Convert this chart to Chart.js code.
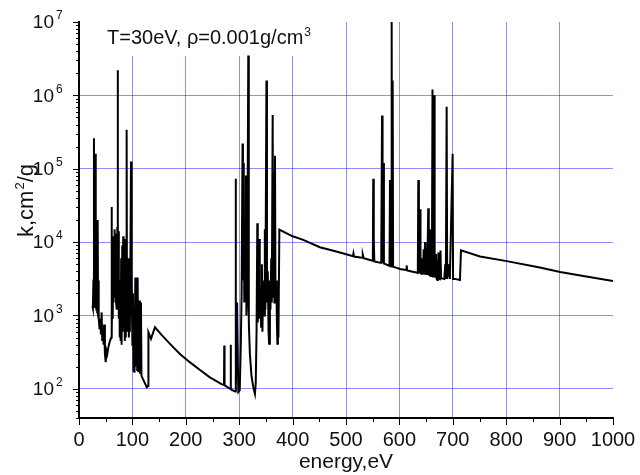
<!DOCTYPE html>
<html>
<head>
<meta charset="utf-8">
<script src="https://cdn.jsdelivr.net/npm/chart.js@4.4.1/dist/chart.umd.min.js"></script>
<style>
  html, body { margin: 0; padding: 0; background: #fff; }
</style>
</head>
<body>
<canvas id="chart" width="640" height="475"></canvas>
<script>
// first absorption group, 25 - 142 eV
const energyA = [25, 26, 27, 28, 28.6, 29.5, 30.3, 30.9, 31.8, 32.5, 33.4, 34.2, 35, 35.7, 36.5, 37.3,
  38.5, 40, 41, 42.4, 43.5, 45, 46, 47, 48.5, 50, 51.5, 53, 55, 58, 60.5, 61, 61.6, 62.5, 63.2, 64,
  64.8, 65.6, 66.3, 67, 67.8, 68.6, 69.4, 70.3, 71, 71.8, 72.4, 73, 73.8, 74.6, 75.5, 76.3, 77.2, 78,
  79, 79.8, 81, 81.8, 82.8, 83.6, 84.8, 85.8, 86.8, 87.6, 88.5, 89.2, 89.9, 90.8, 91.6, 92.5, 93.4,
  94.3, 95.2, 96.2, 97.4, 98.2, 99, 100, 101, 102, 103, 104, 105.5, 106.5, 108, 109, 109.8, 111, 113,
  114, 116, 117, 122, 127, 129.8, 130, 134.8, 142.3];
const kappaA = [1350, 1250, 3000, 260000, 1300, 8000, 160000, 1400, 12000, 1200, 9000, 1100, 20000, 1000, 3000, 900,
  650, 900, 550, 1100, 450, 600, 400, 750, 300, 230, 330, 300, 370, 450, 500, 30000, 600, 4000, 900, 12000,
  1500, 8000, 2000, 15000, 1800, 13000, 1500, 9000, 1200, 16000, 2200000, 1500, 14000, 900, 3000, 500, 2500, 450,
  6000, 400, 9000, 600, 12000, 700, 11000, 450, 5000, 500, 9000, 340000, 700, 4000, 600, 6000, 500,
  3000, 600, 5000, 125000, 1000, 3000, 400, 2000, 170, 1200, 165, 3300, 200, 1800, 180, 3300, 170, 1600,
  160, 1500, 150, 125, 105, 110, 590, 480, 690];

// smooth valley and second group, 155 - 375 eV
const energyB = [155, 170.4, 189, 208, 226.6, 245, 267, 271.5, 272, 272.6, 280, 283.5, 284, 284.6, 288,
  292.5, 293.3, 294, 296, 298.3, 301, 303, 304.5, 306.3, 307, 308.5, 309.5, 311, 312.7, 313.5, 315, 317,
  318, 320, 323, 326.4, 329.5, 331, 332.5, 333.9, 334.8, 336, 337.6, 338.5, 340, 341, 342.5, 343.5, 345,
  346.5, 348, 349, 351, 352, 353.5, 355, 356, 357.5, 358.5, 360, 361, 362.7, 363.5, 365, 366, 367, 368,
  369.5, 370.5, 371.5, 372.5, 373.5];
const kappaB = [540, 410, 298, 229, 180, 143, 116, 113, 390, 112, 103, 100, 400, 99, 95,
  92, 73000, 92, 1500, 90, 95, 400, 2000, 220000, 3000, 120000, 1500, 3000, 81000, 1000, 2000, 3500000,
  800, 300, 150, 105, 85, 120, 600, 18000, 800, 3000, 11000, 900, 2500, 700, 5000, 600, 3000,
  1000, 15000, 1200, 1600000, 1500, 4000, 600, 410, 3000, 1200, 6000, 1500, 540000, 1800, 90000, 1500, 150000, 1500,
  3000, 900, 410, 2400, 500];

// edge and third group, 375 - 1000 eV
const energyC = [375.2, 400, 420, 451, 480, 507, 513, 514, 515, 530, 531.5, 533, 548, 550.3, 551, 551.7,
  552.4, 553, 560, 566, 567.5, 568.5, 570, 571, 574, 579.3, 581.5, 582.4, 583, 584.5, 585.5, 586.3, 587.4,
  588.2, 595, 601, 612.5, 613.6, 614.5, 625, 632, 634.5, 635.4, 636.5, 638.6, 639.5, 641.7, 643, 644,
  645.5, 646.5, 648, 649, 650.5, 651.5, 653, 654, 655, 656.5, 657.5, 658.5, 659.5, 661, 662, 663, 664,
  665, 666, 667, 668.5, 669.5, 671, 672, 673, 674, 675.5, 677, 678, 680, 684, 686, 687, 688.5, 689.5,
  693.5, 694.5, 699.7, 700.5, 704, 713.4, 715.3, 751, 801, 863, 901, 950, 1000];
const kappaC = [14800, 12000, 10700, 8500, 7500, 6600, 6400, 7000, 6350, 6100, 6700, 6050, 5600, 5550, 73000, 5500,
  11000, 5450, 5300, 5200, 530000, 5200, 120000, 5100, 5000, 4800, 4750, 70000, 4700, 4700, 10000000, 4650, 1600000,
  4600, 4450, 4300, 4150, 4800, 4100, 3950, 3850, 3800, 70000, 3800, 28000, 3750, 3700, 6000, 3650,
  8000, 3600, 10000, 3600, 7000, 3550, 9000, 29000, 3500, 12000, 3500, 15000, 3450, 8000, 1200000, 3400, 6000,
  1000000, 3300, 4500, 6900, 3200, 3050, 3100, 7200, 3200, 3150, 7700, 3200, 3200, 3150, 5000, 3150, 700000, 3150,
  5000, 3150, 160000, 3150, 3150, 3050, 7700, 6350, 5500, 4500, 3900, 3400, 2950];

const xTickValues = [0, 100, 200, 300, 400, 500, 600, 700, 800, 900, 1000];
const yDecades = [2, 3, 4, 5, 6, 7];

const energy = energyA.concat(energyB, energyC);
const kappa = kappaA.concat(kappaB, kappaC);

const FONT = '"Liberation Sans", Arial, Helvetica, sans-serif';
const gridBlue = 'rgba(30, 30, 255, 0.5)';

// tick marks, y labels with exponents, rotated y title and the in-plot title
const decor = {
  id: 'decor',
  beforeDatasetsDraw(chart) {
    const { ctx, chartArea } = chart;
    ctx.save();
    ctx.fillStyle = '#fff';
    ctx.fillRect(chartArea.left + 2, chartArea.top - 1, 262, 35);
    ctx.restore();
  },
  afterDraw(chart) {
    const { ctx, chartArea, scales: { x, y } } = chart;
    ctx.save();
    ctx.strokeStyle = '#000';
    ctx.lineWidth = 1;
    ctx.beginPath();
    for (let e = 1; e <= 7; e++) {
      for (let m = 1; m <= 9; m++) {
        const v = m * Math.pow(10, e);
        if (v < y.min || v > y.max) continue;
        const py = Math.round(y.getPixelForValue(v)) + 0.5;
        const len = m === 1 ? 6 : 3;
        ctx.moveTo(chartArea.left - len, py);
        ctx.lineTo(chartArea.left, py);
      }
    }
    for (let v = 0; v <= 1000; v += 50) {
      const px = Math.round(x.getPixelForValue(v)) + 0.5;
      const len = v % 100 ? 4 : 7;
      ctx.moveTo(px, chartArea.bottom);
      ctx.lineTo(px, chartArea.bottom + len);
    }
    ctx.stroke();

    ctx.fillStyle = '#111';
    yDecades.forEach(n => {
      const py = y.getPixelForValue(Math.pow(10, n));
      ctx.font = '19px ' + FONT;
      ctx.textAlign = 'right';
      ctx.textBaseline = 'middle';
      ctx.fillText('10', 54, py + 1);
      ctx.font = '12px ' + FONT;
      ctx.textAlign = 'left';
      ctx.fillText(String(n), 56, py - 6);
    });

    // y axis title
    ctx.save();
    ctx.translate(33, 237);
    ctx.rotate(-Math.PI / 2);
    ctx.textAlign = 'left';
    ctx.textBaseline = 'alphabetic';
    ctx.font = '22px ' + FONT;
    ctx.fillText('k,cm', 0, 0);
    let w = ctx.measureText('k,cm').width;
    ctx.font = '13px ' + FONT;
    ctx.fillText('2', w + 1, -9);
    w += ctx.measureText('2').width + 1;
    ctx.font = '22px ' + FONT;
    ctx.fillText('/g', w, 0);
    ctx.restore();

    // plot title
    ctx.textAlign = 'left';
    ctx.textBaseline = 'alphabetic';
    ctx.font = '20px ' + FONT;
    const t = 'T=30eV, \u03c1=0.001g/cm';
    ctx.fillText(t, 107, 44);
    const tw = ctx.measureText(t).width;
    ctx.font = '12px ' + FONT;
    ctx.fillText('3', 107 + tw + 1, 36);
    ctx.restore();
  }
};

new Chart(document.getElementById('chart'), {
  type: 'line',
  data: {
    datasets: [{
      data: energy.map((e, i) => ({ x: e, y: kappa[i] })),
      borderColor: '#000',
      borderWidth: 2,
      pointRadius: 0,
      tension: 0,
      fill: false
    }]
  },
  options: {
    responsive: false,
    animation: false,
    layout: { padding: { top: 22, right: 27, left: 0, bottom: 0 } },
    plugins: { legend: { display: false }, tooltip: { enabled: false } },
    scales: {
      x: {
        type: 'linear',
        min: 0,
        max: 1000,
        afterFit(s) {
          s.height = 57;
          s.paddingLeft = 0;
          s.paddingRight = 0;
        },
        afterBuildTicks(s) { s.ticks = xTickValues.map(v => ({ value: v })); },
        ticks: {
          color: '#111',
          font: { size: 20, family: FONT },
          padding: 10,
          maxRotation: 0,
          autoSkip: false,
          callback: v => String(v)
        },
        grid: {
          color: c => (c.tick && (c.tick.value === 0 || c.tick.value === 1000)) ? 'rgba(0,0,0,0)' : gridBlue,
          lineWidth: 1,
          drawTicks: false
        },
        border: { color: '#000', width: 2 },
        title: { display: true, text: 'energy,eV', color: '#111', font: { size: 21, family: FONT }, padding: { top: 0, bottom: 0 } }
      },
      y: {
        type: 'logarithmic',
        min: 40,
        max: 1e7,
        afterFit(s) {
          s.width = 79;
          s.paddingTop = 0;
          s.paddingBottom = 0;
        },
        afterBuildTicks(s) { s.ticks = yDecades.map(n => ({ value: Math.pow(10, n) })); },
        ticks: { display: false },
        grid: {
          color: c => (c.tick && c.tick.value >= 1e7) ? 'rgba(0,0,0,0)' : gridBlue,
          lineWidth: 1,
          drawTicks: false
        },
        border: { color: '#000', width: 2 }
      }
    }
  },
  plugins: [decor]
});
</script>
</body>
</html>
